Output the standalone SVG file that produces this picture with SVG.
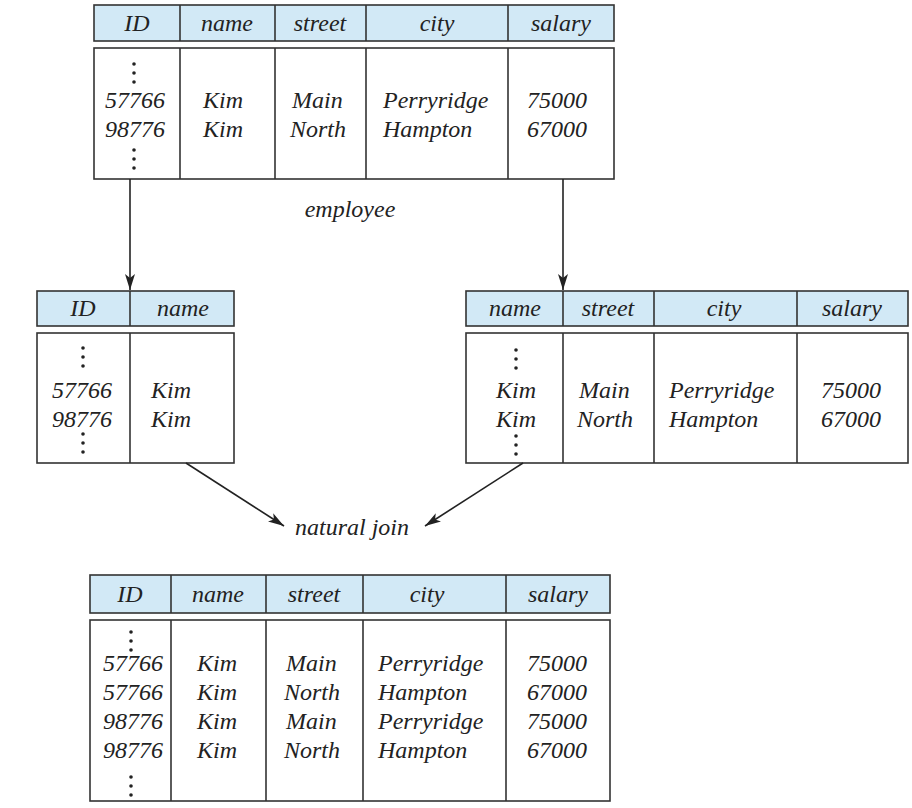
<svg xmlns="http://www.w3.org/2000/svg" width="912" height="808" viewBox="0 0 912 808">
<style>
.hdr{fill:#d2e9f6;stroke:#333;stroke-width:1.6}
.body{fill:#fff;stroke:#333;stroke-width:1.6}
.ln{stroke:#333;stroke-width:1.6}
text{font-family:"Liberation Serif","Times New Roman",serif;font-style:italic;font-size:24px;fill:#222}
.c{text-anchor:middle}
.dot{fill:#222}
.conn{stroke:#222;stroke-width:1.6;fill:none}
</style>
<defs>
<marker id="ah" viewBox="0 0 16 10" refX="16" refY="5" markerWidth="16" markerHeight="10" markerUnits="userSpaceOnUse" orient="auto">
<path d="M0,0 L16,5 L0,10 L4,5 Z" fill="#222"/>
</marker>
</defs>
<rect width="912" height="808" fill="#fff"/>

<g id="employee">
<rect class="hdr" x="94" y="5" width="520" height="36"/>
<line class="ln" x1="180" y1="5" x2="180" y2="41"/>
<line class="ln" x1="275" y1="5" x2="275" y2="41"/>
<line class="ln" x1="366" y1="5" x2="366" y2="41"/>
<line class="ln" x1="508" y1="5" x2="508" y2="41"/>
<text class="c" x="137" y="31">ID</text>
<text class="c" x="227" y="31">name</text>
<text class="c" x="320" y="31">street</text>
<text class="c" x="437" y="31">city</text>
<text class="c" x="561" y="31">salary</text>
<rect class="body" x="94" y="48" width="520" height="131"/>
<line class="ln" x1="180" y1="48" x2="180" y2="179"/>
<line class="ln" x1="275" y1="48" x2="275" y2="179"/>
<line class="ln" x1="366" y1="48" x2="366" y2="179"/>
<line class="ln" x1="508" y1="48" x2="508" y2="179"/>
<circle class="dot" cx="134" cy="64" r="1.8"/><circle class="dot" cx="134" cy="73" r="1.8"/><circle class="dot" cx="134" cy="82" r="1.8"/>
<circle class="dot" cx="134" cy="150" r="1.8"/><circle class="dot" cx="134" cy="159" r="1.8"/><circle class="dot" cx="134" cy="168" r="1.8"/>
<text x="105" y="108">57766</text>
<text x="105" y="137">98776</text>
<text x="203" y="108">Kim</text>
<text x="203" y="137">Kim</text>
<text x="292" y="108">Main</text>
<text x="290" y="137">North</text>
<text x="383" y="108">Perryridge</text>
<text x="383" y="137">Hampton</text>
<text x="527" y="108">75000</text>
<text x="527" y="137">67000</text>
<text class="c" x="350" y="217">employee</text>
</g>

<g id="proj-left">
<rect class="hdr" x="37" y="291" width="197" height="35"/>
<line class="ln" x1="130" y1="291" x2="130" y2="326"/>
<text class="c" x="83" y="316">ID</text>
<text class="c" x="183" y="316">name</text>
<rect class="body" x="37" y="333" width="197" height="130"/>
<line class="ln" x1="130" y1="333" x2="130" y2="463"/>
<circle class="dot" cx="83" cy="348" r="1.8"/><circle class="dot" cx="83" cy="357" r="1.8"/><circle class="dot" cx="83" cy="366" r="1.8"/>
<circle class="dot" cx="83" cy="434" r="1.8"/><circle class="dot" cx="83" cy="443" r="1.8"/><circle class="dot" cx="83" cy="452" r="1.8"/>
<text x="52" y="398">57766</text>
<text x="52" y="427">98776</text>
<text x="151" y="398">Kim</text>
<text x="151" y="427">Kim</text>
</g>

<g id="proj-right">
<rect class="hdr" x="466" y="291" width="442" height="35"/>
<line class="ln" x1="563" y1="291" x2="563" y2="326"/>
<line class="ln" x1="654" y1="291" x2="654" y2="326"/>
<line class="ln" x1="797" y1="291" x2="797" y2="326"/>
<text class="c" x="515" y="316">name</text>
<text class="c" x="608" y="316">street</text>
<text class="c" x="724" y="316">city</text>
<text class="c" x="852" y="316">salary</text>
<rect class="body" x="466" y="333" width="442" height="130"/>
<line class="ln" x1="563" y1="333" x2="563" y2="463"/>
<line class="ln" x1="654" y1="333" x2="654" y2="463"/>
<line class="ln" x1="797" y1="333" x2="797" y2="463"/>
<circle class="dot" cx="516" cy="350" r="1.8"/><circle class="dot" cx="516" cy="359" r="1.8"/><circle class="dot" cx="516" cy="368" r="1.8"/>
<circle class="dot" cx="516" cy="436" r="1.8"/><circle class="dot" cx="516" cy="445" r="1.8"/><circle class="dot" cx="516" cy="454" r="1.8"/>
<text x="496" y="398">Kim</text>
<text x="496" y="427">Kim</text>
<text x="579" y="398">Main</text>
<text x="577" y="427">North</text>
<text x="669" y="398">Perryridge</text>
<text x="669" y="427">Hampton</text>
<text x="821" y="398">75000</text>
<text x="821" y="427">67000</text>
</g>

<g id="result">
<rect class="hdr" x="90" y="575" width="520" height="38"/>
<line class="ln" x1="171" y1="575" x2="171" y2="613"/>
<line class="ln" x1="266" y1="575" x2="266" y2="613"/>
<line class="ln" x1="363" y1="575" x2="363" y2="613"/>
<line class="ln" x1="506" y1="575" x2="506" y2="613"/>
<text class="c" x="130" y="602">ID</text>
<text class="c" x="218" y="602">name</text>
<text class="c" x="314" y="602">street</text>
<text class="c" x="427" y="602">city</text>
<text class="c" x="558" y="602">salary</text>
<rect class="body" x="90" y="620" width="520" height="181"/>
<line class="ln" x1="171" y1="620" x2="171" y2="801"/>
<line class="ln" x1="266" y1="620" x2="266" y2="801"/>
<line class="ln" x1="363" y1="620" x2="363" y2="801"/>
<line class="ln" x1="506" y1="620" x2="506" y2="801"/>
<circle class="dot" cx="131" cy="632" r="1.8"/><circle class="dot" cx="131" cy="641" r="1.8"/><circle class="dot" cx="131" cy="650" r="1.8"/>
<circle class="dot" cx="131" cy="777" r="1.8"/><circle class="dot" cx="131" cy="786" r="1.8"/><circle class="dot" cx="131" cy="795" r="1.8"/>
<text x="103" y="671">57766</text>
<text x="103" y="700">57766</text>
<text x="103" y="729">98776</text>
<text x="103" y="758">98776</text>
<text x="197" y="671">Kim</text>
<text x="197" y="700">Kim</text>
<text x="197" y="729">Kim</text>
<text x="197" y="758">Kim</text>
<text x="286" y="671">Main</text>
<text x="284" y="700">North</text>
<text x="286" y="729">Main</text>
<text x="284" y="758">North</text>
<text x="378" y="671">Perryridge</text>
<text x="378" y="700">Hampton</text>
<text x="378" y="729">Perryridge</text>
<text x="378" y="758">Hampton</text>
<text x="527" y="671">75000</text>
<text x="527" y="700">67000</text>
<text x="527" y="729">75000</text>
<text x="527" y="758">67000</text>
</g>

<g id="join-label">
<text class="c" x="352" y="535">natural join</text>
</g>

<g id="connectors">
<line class="conn" x1="130" y1="179" x2="130" y2="290" marker-end="url(#ah)"/>
<line class="conn" x1="563" y1="179" x2="563" y2="290" marker-end="url(#ah)"/>
<line class="conn" x1="186" y1="463" x2="284" y2="526" marker-end="url(#ah)"/>
<line class="conn" x1="523" y1="463" x2="425" y2="526" marker-end="url(#ah)"/>
</g>
</svg>
